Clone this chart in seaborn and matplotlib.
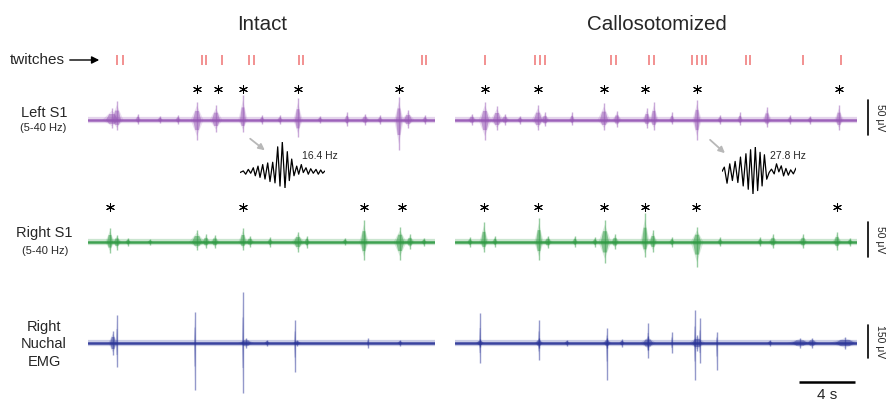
import matplotlib
matplotlib.use("Agg")
import matplotlib.pyplot as plt
import seaborn as sns

# ---- data: times in s from the start of each panel, amplitudes in uV ----
# twitch times (red ticks)
TWITCH_INTACT = [2.07, 2.5, 8.14, 8.43, 9.57, 11.5, 11.86, 15.07, 15.36, 23.86, 24.14]
TWITCH_CALLOSO = [2.14, 5.71, 6.07, 6.43, 11.14, 11.5, 13.86, 14.21, 16.93, 17.29,
                  17.64, 17.93, 20.79, 21.07, 24.86, 27.57]

# asterisks (detected spindle bursts)
STAR_LS1_INTACT = [7.79, 9.29, 11.07, 15.0, 22.21]
STAR_LS1_CALLOSO = [2.14, 5.93, 10.64, 13.57, 17.29, 27.43]
STAR_RS1_INTACT = [1.57, 11.07, 19.71, 22.43]
STAR_RS1_CALLOSO = [2.07, 5.93, 10.64, 13.57, 17.21, 27.29]

# bursts: (time, up amplitude, down amplitude, half width in s)
LS1_INTACT = [(1.71, 17, 11, 0.43), (2.07, 27, 14, 0.29), (3.57, 9, 6, 0.14),
              (5.14, 6, 4, 0.14), (6.43, 7, 6, 0.14), (7.79, 26, 29, 0.29),
              (9.14, 21, 17, 0.29), (11.07, 36, 17, 0.21), (12.43, 7, 6, 0.14),
              (13.71, 7, 6, 0.14), (15.0, 31, 24, 0.21), (16.57, 6, 4, 0.14),
              (18.5, 11, 9, 0.14), (19.79, 9, 7, 0.21), (20.86, 7, 6, 0.14),
              (22.21, 33, 43, 0.21), (22.86, 14, 11, 0.29), (24.07, 7, 6, 0.14)]
LS1_CALLOSO = [(1.21, 9, 7, 0.21), (2.14, 26, 29, 0.29), (3.0, 20, 14, 0.29),
               (3.57, 9, 7, 0.21), (4.64, 6, 6, 0.14), (5.93, 21, 14, 0.29),
               (6.43, 11, 9, 0.21), (8.36, 11, 7, 0.14), (10.64, 24, 14, 0.29),
               (11.57, 13, 10, 0.21), (13.71, 17, 11, 0.21), (14.21, 26, 14, 0.21),
               (15.5, 11, 6, 0.14), (17.29, 29, 29, 0.21), (18.93, 7, 6, 0.14),
               (20.36, 11, 7, 0.14), (22.29, 19, 10, 0.21), (23.93, 7, 6, 0.14),
               (25.36, 6, 6, 0.14), (27.43, 21, 14, 0.21)]
RS1_INTACT = [(1.57, 20, 16, 0.21), (2.07, 10, 11, 0.21), (2.86, 6, 6, 0.14),
              (4.43, 4, 4, 0.14), (7.79, 17, 11, 0.36), (8.43, 11, 9, 0.21),
              (9.07, 10, 9, 0.21), (11.07, 20, 11, 0.21), (11.57, 9, 7, 0.21),
              (13.0, 7, 7, 0.14), (15.0, 14, 14, 0.29), (15.64, 9, 9, 0.14),
              (18.36, 6, 4, 0.14), (19.71, 31, 26, 0.21), (22.29, 21, 26, 0.29),
              (23.0, 11, 10, 0.21), (24.0, 6, 6, 0.14)]
RS1_CALLOSO = [(1.07, 7, 7, 0.14), (2.07, 29, 14, 0.21), (2.86, 9, 7, 0.14),
               (6.0, 34, 26, 0.21), (6.64, 9, 9, 0.21), (8.57, 9, 7, 0.14),
               (10.0, 7, 7, 0.14), (10.71, 31, 30, 0.29), (11.43, 11, 10, 0.21),
               (13.57, 41, 21, 0.21), (14.14, 17, 14, 0.21), (15.5, 7, 7, 0.14),
               (17.29, 21, 36, 0.29), (18.93, 7, 6, 0.14), (21.79, 7, 6, 0.14),
               (22.71, 11, 9, 0.21), (24.86, 11, 9, 0.21), (27.29, 14, 11, 0.21),
               (28.21, 6, 6, 0.14)]
EMG_INTACT = [(1.79, 55, 55, 0.21), (2.07, 127, 109, 0.04), (7.64, 141, 214, 0.04),
              (11.07, 232, 227, 0.04), (11.29, 23, 23, 0.36), (12.79, 14, 14, 0.14),
              (14.79, 105, 132, 0.04), (14.93, 14, 14, 0.21), (20.0, 23, 23, 0.04),
              (22.29, 14, 14, 0.14)]
EMG_CALLOSO = [(1.79, 136, 91, 0.04), (1.79, 18, 18, 0.21), (6.0, 105, 77, 0.04),
               (6.0, 23, 23, 0.21), (8.0, 14, 14, 0.14), (10.86, 68, 168, 0.04),
               (10.86, 23, 23, 0.21), (11.93, 18, 18, 0.14), (13.79, 91, 68, 0.04),
               (13.79, 32, 32, 0.36), (15.5, 50, 45, 0.04), (17.14, 150, 168, 0.04),
               (17.3, 36, 36, 0.36), (17.5, 114, 91, 0.04), (18.71, 50, 123, 0.04),
               (22.5, 14, 14, 0.14), (24.64, 23, 23, 0.57), (25.5, 23, 23, 0.29),
               (27.86, 27, 27, 0.71)]

# inset waveforms (sample position, amplitude)
WAVE_164_T = [0, 3.3, 5.7, 8.3, 10.7, 13.3, 15.3, 18, 20, 22.7, 25, 27.7, 30, 32.7,
              35, 37.7, 40, 42.3, 45, 47.3, 49.3, 51.7, 54, 56.7, 58.7, 61.3, 63.3,
              66, 68.3, 70.7, 73.3, 76, 78.3, 80.7, 82.7, 85]
WAVE_164_V = [0, 1.7, -1.7, 3.3, -0.7, 5, -3.3, 6.7, -5, 8.3, -6.7, 10, -9.3, 10.7,
              -10.7, 26.7, -14, 31.7, -16, 21.7, -8.3, 14, -3.3, 6.7, -1.7, 8.3, 0,
              5, -1.7, 4, -0.7, 3.3, -1.7, 2.7, -0.7, 1.7]
WAVE_278_T = [0, 2.3, 5, 7.7, 10.3, 13, 15.7, 18.3, 21, 23.7, 26, 28.3, 30.7, 33,
              35.3, 37.7, 39.7, 42, 44.3, 46.7, 49, 51.7, 54, 56.3, 58.7, 61, 63.3,
              65.7, 68, 70.7, 73.3]
WAVE_278_V = [1.7, 6, -10, 9.3, -7.3, 11.7, -9.3, 16, -12.7, 19.3, -16, 23.3, -20.7,
              26, -17.3, 20.7, -12.7, 18.3, -6, 0.7, 4, -0.7, 9.3, 1.3, 7.3, -2.7,
              4.7, -2, 3.3, -0.7, 5]

# ---- layout (pixels of the 887 x 401 canvas) ----
W, H = 887, 401
PX_PER_S = 14.0
S1_GAIN, EMG_GAIN = 0.7, 0.22      # px per uV
TWITCH_Y, LS1_Y, RS1_Y, EMG_Y = H - 60, H - 120, H - 242, H - 343
LS1_STAR_Y, RS1_STAR_Y = H - 89, H - 207
PURPLE, GREEN, BLUE = "#9657b5", "#2f9a43", "#2b3598"
TWITCH_COLOR = "#f29090"

sns.set_theme(style="white")
plt.rcParams["font.family"] = ["Liberation Sans", "DejaVu Sans"]

fig = plt.figure(figsize=(W / 100, H / 100), dpi=100)


def panel(x_left, x_right):
    duration = (x_right - x_left) / PX_PER_S
    ax = fig.add_axes([x_left / W, 0, (x_right - x_left) / W, 1])
    ax.set_xlim(0, duration)
    ax.set_ylim(0, H)
    ax.axis("off")
    return ax, duration


def draw_trace(ax, bursts, base_y, gain, color, duration):
    ax.plot([0, duration], [base_y, base_y], color=color, lw=4.5, alpha=0.25,
            solid_capstyle="butt")
    sns.lineplot(x=[0, duration], y=[base_y, base_y], ax=ax, color=color, lw=1.8,
                 alpha=0.9)
    for t, up, dn, w in bursts:
        # faint halo
        ax.fill([t - 1.6 * w, t, t + 1.6 * w, t],
                [base_y, base_y + 0.8 * up * gain, base_y, base_y - 0.8 * dn * gain],
                color=color, alpha=0.18, lw=0)
        # dense core
        ax.fill([t - w, t - 0.45 * w, t + 0.45 * w, t + w, t + 0.45 * w, t - 0.45 * w],
                [base_y, base_y + 0.5 * up * gain, base_y + 0.5 * up * gain, base_y,
                 base_y - 0.5 * dn * gain, base_y - 0.5 * dn * gain],
                color=color, alpha=0.5, lw=0)
        ax.vlines(t, base_y - dn * gain, base_y + up * gain, color=color,
                  lw=1.0, alpha=0.5)


def stars(ax, times, y):
    ax.scatter(times, [y] * len(times), marker=(6, 2, 0), s=34, color="black",
               linewidths=0.75, clip_on=False)


ax_l, dur_l = panel(88, 435)
ax_r, dur_r = panel(455, 857)

for ax, dur, tw, ls1, rs1, emg, s_l, s_r in [
        (ax_l, dur_l, TWITCH_INTACT, LS1_INTACT, RS1_INTACT, EMG_INTACT,
         STAR_LS1_INTACT, STAR_RS1_INTACT),
        (ax_r, dur_r, TWITCH_CALLOSO, LS1_CALLOSO, RS1_CALLOSO, EMG_CALLOSO,
         STAR_LS1_CALLOSO, STAR_RS1_CALLOSO)]:
    ax.vlines(tw, TWITCH_Y - 5, TWITCH_Y + 5, color=TWITCH_COLOR, lw=1.4)
    draw_trace(ax, ls1, LS1_Y, S1_GAIN, PURPLE, dur)
    draw_trace(ax, rs1, RS1_Y, S1_GAIN, GREEN, dur)
    draw_trace(ax, emg, EMG_Y, EMG_GAIN, BLUE, dur)
    stars(ax, s_l, LS1_STAR_Y)
    stars(ax, s_r, RS1_STAR_Y)

# scale bars on the right
bar_x = (868 - 455) / PX_PER_S
for base_y, val, gain, label in [(LS1_Y, 50, S1_GAIN, "50 μV"),
                                 (RS1_Y, 50, S1_GAIN, "50 μV"),
                                 (EMG_Y, 150, EMG_GAIN, "150 μV")]:
    y0 = base_y - 15
    ax_r.plot([bar_x, bar_x], [y0, y0 + val * gain], color="black", lw=1.2,
              clip_on=False)
    ax_r.text(bar_x + 0.85, y0 + val * gain / 2, label, rotation=270,
              ha="center", va="center", fontsize=7.5, clip_on=False)

t_bar0 = (799 - 455) / PX_PER_S
ax_r.plot([t_bar0, t_bar0 + 4], [H - 382, H - 382], color="black", lw=1.8,
          solid_capstyle="butt")
ax_r.text(t_bar0 + 2, H - 395, "4 s", ha="center", va="center", fontsize=11)

# inset waveforms
for (x0, y_top, w, h, tt, vv, label, lx) in [
        (240, 142, 85, 46, WAVE_164_T, WAVE_164_V, "16.4 Hz", 302),
        (722, 147, 74, 47, WAVE_278_T, WAVE_278_V, "27.8 Hz", 770)]:
    ax_in = fig.add_axes([x0 / W, (H - y_top - h) / H, w / W, h / H])
    sns.lineplot(x=tt, y=vv, ax=ax_in, color="black", lw=0.9, sort=False)
    ax_in.set_xlim(min(tt), max(tt))
    ax_in.set_ylim(min(vv), max(vv))
    ax_in.axis("off")
    fig.text(lx / W, 1 - 156 / H, label, fontsize=7.5, va="center")

for (x1, y1, x2, y2) in [(248, 137, 267, 152), (708, 138, 727, 155)]:
    ax_l.annotate("", xy=(x2, H - y2), xytext=(x1, H - y1), xycoords="figure pixels",
                  textcoords="figure pixels",
                  arrowprops=dict(arrowstyle="-|>", color="#b8b8b8", lw=1.3,
                                  mutation_scale=9))

# titles and row labels
fig.text(262 / W, 1 - 25 / H, "Intact", ha="center", va="center", fontsize=14.8)
fig.text(657 / W, 1 - 25 / H, "Callosotomized", ha="center", va="center",
         fontsize=14.8)
fig.text(10 / W, 1 - 60 / H, "twitches", ha="left", va="center", fontsize=11)
ax_l.annotate("", xy=(102, H - 60), xytext=(67, H - 60), xycoords="figure pixels",
              textcoords="figure pixels",
              arrowprops=dict(arrowstyle="-|>", color="black", lw=1.0,
                              mutation_scale=11))
fig.text(44 / W, 1 - 113 / H, "Left S1", ha="center", va="center", fontsize=10.5)
fig.text(43 / W, 1 - 128 / H, "(5-40 Hz)", ha="center", va="center", fontsize=8)
fig.text(44 / W, 1 - 233 / H, "Right S1", ha="center", va="center", fontsize=10.5)
fig.text(45 / W, 1 - 251 / H, "(5-40 Hz)", ha="center", va="center", fontsize=8)
for y, word in [(327, "Right"), (344, "Nuchal"), (362, "EMG")]:
    fig.text(44 / W, 1 - y / H, word, ha="center", va="center", fontsize=10.5)

fig.savefig("out.png", dpi=100)
